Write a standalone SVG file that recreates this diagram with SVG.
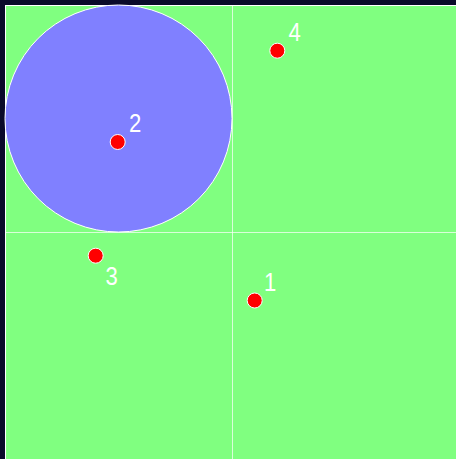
<svg xmlns="http://www.w3.org/2000/svg" width="456" height="459" viewBox="0 0 456 459">
<style>
.pt{fill:#ff0000;stroke:#ffffff;stroke-width:1}
.lbl{font-family:"Liberation Sans",Arial,sans-serif;font-size:26px;fill:#ffffff}
.grid{stroke:#ffffff;stroke-opacity:0.7;stroke-width:1}
</style>
<rect x="0" y="0" width="456" height="459" fill="#0a0a2a"/>
<rect id="field" x="5.5" y="5.5" width="460" height="460" fill="#80ff80" stroke="#ffffff" stroke-width="1"/>
<g id="connectors">
<line class="grid" x1="232.5" y1="5" x2="232.5" y2="459"/>
<line class="grid" x1="5" y1="232.5" x2="456" y2="232.5"/>
</g>
<g id="circle"><circle cx="118.5" cy="118.5" r="113.5" fill="#8080ff" stroke="#ffffff" stroke-width="1"/></g>
<g id="p1"><circle class="pt" cx="254.7" cy="300.5" r="7.5"/><text class="lbl" x="264" y="291" transform="translate(264 0) scale(0.85 1) translate(-264 0)">1</text></g>
<g id="p2"><circle class="pt" cx="117.7" cy="142" r="7.5"/><text class="lbl" x="129" y="132" transform="translate(129 0) scale(0.85 1) translate(-129 0)">2</text></g>
<g id="p3"><circle class="pt" cx="95.7" cy="255.7" r="7.5"/><text class="lbl" x="105.5" y="285" transform="translate(105.5 0) scale(0.85 1) translate(-105.5 0)">3</text></g>
<g id="p4"><circle class="pt" cx="277.3" cy="50.7" r="7.5"/><text class="lbl" x="288.5" y="41" transform="translate(288.5 0) scale(0.85 1) translate(-288.5 0)">4</text></g>
</svg>
